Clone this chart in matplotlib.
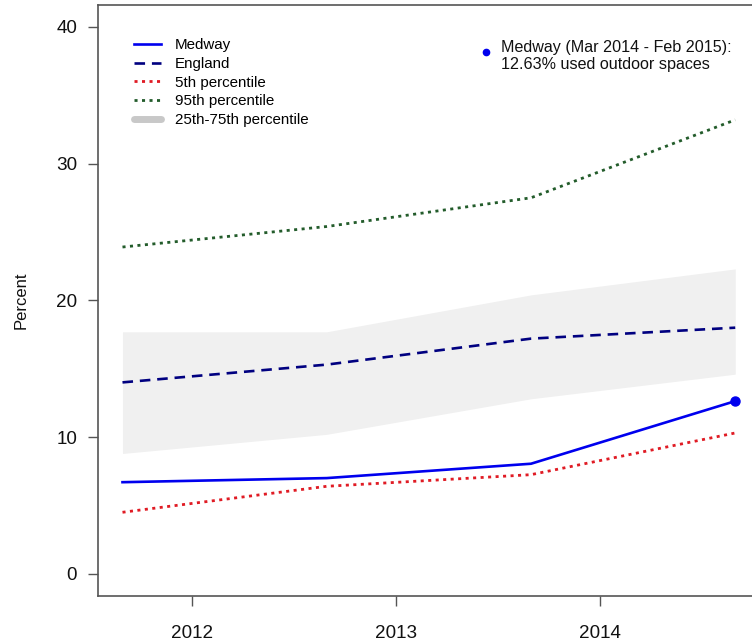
import matplotlib
matplotlib.use("Agg")
import matplotlib.pyplot as plt
from matplotlib.lines import Line2D

plt.rcParams["font.family"] = ["Liberation Sans", "DejaVu Sans"]

# Annual periods (Mar-Feb), plotted at mid-period
years = [2011.66, 2012.66, 2013.66, 2014.66]
medway = [6.7, 7.0, 8.05, 12.63]
england = [14.0, 15.3, 17.2, 18.0]
p5 = [4.5, 6.4, 7.25, 10.3]
p95 = [23.9, 25.4, 27.5, 33.2]
p25 = [8.8, 10.2, 12.8, 14.6]
p75 = [17.7, 17.7, 20.4, 22.3]

xticks = [2012, 2013, 2014]
yticks = [0, 10, 20, 30, 40]

latest_label = "Medway (Mar 2014 - Feb 2015):\n12.63% used outdoor spaces"

fig = plt.figure(figsize=(7.52, 6.43), dpi=100)
ax = fig.add_axes([0.1303, 0.0736, 0.880, 0.9186])

ax.fill_between(years, p25, p75, color="#f0f0f0", linewidth=0, zorder=1)
ax.plot(years, p95, color="#235c2b", lw=2.0, linestyle=(0, (1.1, 1.6)), zorder=2)
ax.plot(years, p5, color="#e01b24", lw=2.0, linestyle=(0, (1.1, 1.6)), zorder=2)
ax.plot(years, england, color="#000080", lw=1.9, linestyle=(0, (4, 2.6)), zorder=3)
ax.plot(years, medway, color="#0000ee", lw=1.9, zorder=4)
ax.plot([years[-1]], [medway[-1]], "o", color="#0000ee", ms=6.5, zorder=5)

ax.set_xlim(2011.54, 2014.78)
ax.set_ylim(-1.6, 41.6)
ax.set_xticks(xticks)
ax.set_xticklabels([str(t) for t in xticks])
ax.set_yticks(yticks)
ax.tick_params(axis="both", direction="out", length=7, width=1.0,
               color="#555555", labelsize=13.6, labelcolor="#111111")
ax.tick_params(axis="x", pad=14)
ax.tick_params(axis="y", pad=8)
for s in ax.spines.values():
    s.set_color("#555555")
    s.set_linewidth(1.2)

ax.set_ylabel("Percent", fontsize=12, color="#111111", labelpad=20)

handles = [
    Line2D([], [], color="#0000ee", lw=1.9),
    Line2D([], [], color="#000080", lw=1.9, linestyle=(0, (4, 2.6))),
    Line2D([], [], color="#e01b24", lw=2.0, linestyle=(0, (1.1, 1.6))),
    Line2D([], [], color="#235c2b", lw=2.0, linestyle=(0, (1.1, 1.6))),
    Line2D([], [], color="#c8c8c8", lw=5, solid_capstyle="round"),
]
labels = ["Medway", "England", "5th percentile", "95th percentile", "25th-75th percentile"]
ax.legend(handles, labels, loc="upper left", bbox_to_anchor=(0.045, 0.954),
          frameon=False, fontsize=10.9, handlelength=1.8, handletextpad=0.9,
          labelspacing=0.31, borderaxespad=0)

# Latest-period callout
ax.plot([2013.44], [38.2], "o", color="#0000ee", ms=4.5, clip_on=False)
ax.text(2013.515, 37.85, latest_label, fontsize=11.6, color="#111111",
        va="center", ha="left", linespacing=1.2)

fig.savefig("out.png", dpi=100)
